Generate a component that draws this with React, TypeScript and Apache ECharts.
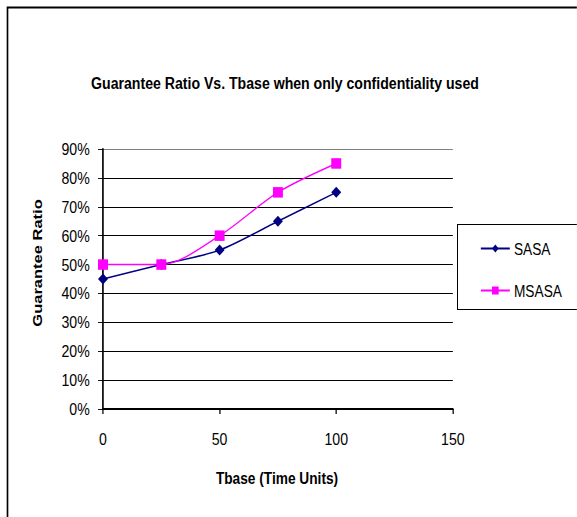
import React, { useEffect, useRef } from "react";
import * as echarts from "echarts";

const xValues = [0, 25, 50, 75, 100];
const sasa = [0.45, 0.5, 0.55, 0.65, 0.75];
const msasa = [0.5, 0.5, 0.6, 0.75, 0.85];
const seriesNames = ["SASA", "MSASA"];
const title = "Guarantee Ratio Vs. Tbase when only confidentiality used";
const xName = "Tbase (Time Units)";
const yName = "Guarantee Ratio";

const FONT = "'Liberation Sans', Arial, sans-serif";
// horizontal compression of the whole picture (the reference is a horizontally squeezed rendering)
const S = 0.83;
const W = 577;
const H = 517;
const px = (x: number) => x / S;

export default function App() {
  const ref = useRef<HTMLDivElement>(null);
  useEffect(() => {
    if (!ref.current) return;
    const chart = echarts.init(ref.current, null, { renderer: "svg" });
    const gridColors = ["#000", "#000", "#000", "#000", "#000", "#000", "#000", "#000", "#000", "#808080"];
    chart.setOption({
      animation: false,
      backgroundColor: "#ffffff",
      textStyle: { fontFamily: FONT },
      grid: { left: px(103), right: px(W) - px(453), top: 149, bottom: 108, containLabel: false },
      xAxis: {
        type: "value",
        min: 0,
        max: 150,
        interval: 50,
        axisLine: { show: true, onZero: false, lineStyle: { color: "#000", width: 2 } },
        axisTick: { show: true, length: 5, lineStyle: { color: "#000", width: 1.5 } },
        axisLabel: { margin: 22, fontFamily: FONT, fontSize: 17, color: "#000" },
        splitLine: { show: false },
      },
      yAxis: {
        type: "value",
        min: 0,
        max: 0.9,
        interval: 0.1,
        axisLine: { show: true, lineStyle: { color: "#000", width: 2 } },
        axisTick: { show: true, length: 6, lineStyle: { color: "#000" } },
        axisLabel: {
          margin: 16,
          fontFamily: FONT,
          fontSize: 17,
          color: "#000",
          formatter: (v: number) => Math.round(v * 100) + "%",
        },
        splitLine: { show: true, lineStyle: { color: gridColors, width: 1.2 } },
      },
      legend: {
        orient: "vertical",
        left: px(480),
        top: 240,
        padding: 0,
        itemGap: 25,
        itemWidth: px(29),
        itemHeight: 10,
        textStyle: { fontFamily: FONT, fontSize: 16.5, lineHeight: 17, color: "#000" },
        data: seriesNames,
      },
      series: [
        {
          name: seriesNames[0],
          type: "line",
          smooth: 0.3,
          data: xValues.map((x, i) => [x, sasa[i]]),
          symbol: "diamond",
          symbolSize: [12, 11],
          lineStyle: { color: "#000080", width: 1.5 },
          itemStyle: { color: "#000080" },
        },
        {
          name: seriesNames[1],
          type: "line",
          smooth: 0.3,
          data: xValues.map((x, i) => [x, msasa[i]]),
          symbol: "rect",
          symbolSize: [12, 10.5],
          lineStyle: { color: "#ff00ff", width: 1.5 },
          itemStyle: { color: "#ff00ff" },
        },
      ],
      graphic: [
        {
          type: "rect",
          shape: { x: px(7.5), y: 7.5, width: 900, height: 700 },
          style: { fill: "none", stroke: "#000", lineWidth: 2 },
          silent: true,
        },
        {
          type: "rect",
          shape: { x: px(457.5), y: 224.5, width: 300, height: 85 },
          style: { fill: "none", stroke: "#000", lineWidth: 1.2 },
          silent: true,
        },
        {
          type: "text",
          x: px(285),
          y: 83,
          style: {
            text: title,
            fontFamily: FONT,
            fontSize: 17,
            fontWeight: "bold",
            fill: "#000",
            align: "center",
            verticalAlign: "middle",
          },
        },
        {
          type: "text",
          x: px(37),
          y: 263,
          rotation: Math.PI / 2,
          style: {
            text: yName,
            fontFamily: FONT,
            fontSize: 16.5,
            fontWeight: "bold",
            fill: "#000",
            align: "center",
            verticalAlign: "middle",
          },
        },
        {
          type: "text",
          x: px(277),
          y: 478,
          style: {
            text: xName,
            fontFamily: FONT,
            fontSize: 16.5,
            fontWeight: "bold",
            fill: "#000",
            align: "center",
            verticalAlign: "middle",
          },
        },
      ],
    });
    return () => chart.dispose();
  }, []);
  return (
    <div style={{ position: "fixed", left: 0, top: 0, width: W, height: H, overflow: "hidden", background: "#fff" }}>
      <div
        ref={ref}
        style={{ width: px(W), height: H, transform: `scaleX(${S})`, transformOrigin: "0 0" }}
      />
    </div>
  );
}
